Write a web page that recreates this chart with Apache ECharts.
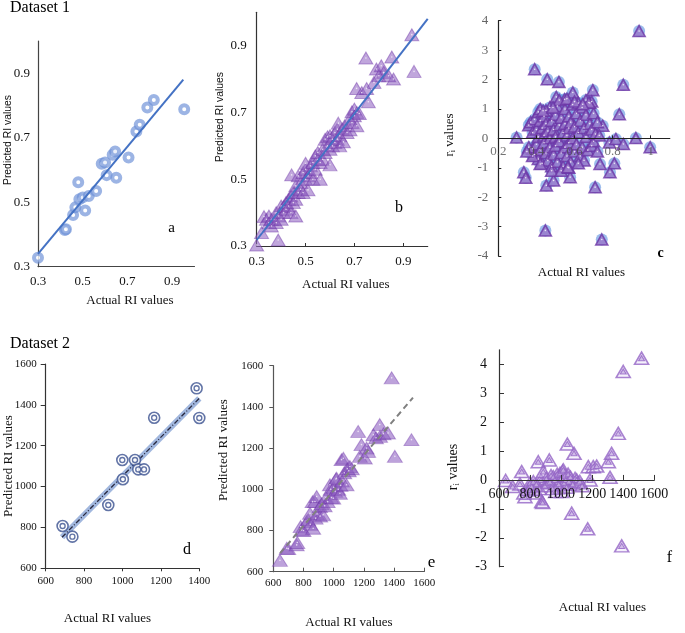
<!DOCTYPE html>
<html><head><meta charset="utf-8">
<script src="https://cdn.jsdelivr.net/npm/echarts@6/dist/echarts.min.js"></script>
<style>html,body{margin:0;padding:0;background:#fff}#c{width:685px;height:633px}</style>
</head><body><div id="c"></div>
<script>
// ---- Dataset 1, panel a ----
const aActual = [0.30,0.42,0.425,0.457,0.467,0.48,0.485,0.50,0.511,0.527,0.56,0.585,0.60,0.607,0.634,0.645,0.65,0.705,0.74,0.755,0.789,0.818,0.954];
const aPred   = [0.328,0.414,0.416,0.46,0.484,0.562,0.509,0.515,0.474,0.519,0.535,0.619,0.623,0.584,0.647,0.657,0.576,0.639,0.719,0.74,0.794,0.817,0.788];
const aFitX = [0.30,0.95];
const aFitY = [0.34,0.88];
// ---- panel b ----
const bActual = [0.30,0.388,0.32,0.33,0.34,0.35,0.35,0.36,0.36,0.37,0.38,0.38,0.39,0.40,0.40,0.41,0.41,0.42,0.42,0.43,0.43,0.44,0.44,0.443,0.45,0.45,0.46,0.46,0.46,0.47,0.47,0.48,0.48,0.49,0.49,0.50,0.50,0.50,0.51,0.51,0.52,0.52,0.53,0.53,0.54,0.54,0.55,0.55,0.56,0.56,0.57,0.57,0.58,0.58,0.59,0.59,0.60,0.60,0.60,0.61,0.61,0.62,0.62,0.63,0.63,0.634,0.64,0.64,0.655,0.65,0.66,0.67,0.68,0.682,0.69,0.69,0.70,0.70,0.71,0.71,0.72,0.709,0.73,0.75,0.757,0.747,0.78,0.79,0.81,0.82,0.80,0.853,0.86,0.84,0.935,0.944];
const bPred   = [0.303,0.318,0.34,0.388,0.38,0.37,0.39,0.36,0.38,0.38,0.37,0.40,0.39,0.42,0.38,0.40,0.418,0.43,0.41,0.44,0.42,0.45,0.40,0.513,0.46,0.43,0.48,0.44,0.39,0.51,0.46,0.49,0.47,0.52,0.46,0.53,0.50,0.548,0.51,0.468,0.54,0.52,0.55,0.50,0.57,0.53,0.56,0.58,0.55,0.50,0.59,0.56,0.62,0.58,0.60,0.627,0.63,0.59,0.543,0.62,0.60,0.64,0.61,0.65,0.62,0.668,0.63,0.60,0.612,0.65,0.66,0.64,0.68,0.648,0.67,0.702,0.71,0.69,0.70,0.66,0.697,0.772,0.76,0.772,0.732,0.863,0.79,0.83,0.84,0.82,0.81,0.866,0.80,0.81,0.933,0.823];
const bFitX = [0.30,1.0];
const bFitY = [0.318,0.98];
// ---- panel c ----
const cActual = [0.296,0.334,0.344,0.391,0.447,0.452,0.457,0.49,0.504,0.518,0.548,0.577,0.591,0.696,0.708,0.734,0.743,0.748,0.783,0.786,0.809,0.817,0.835,0.856,0.856,0.922,0.939,0.997,
 0.36,0.37,0.38,0.38,0.39,0.39,0.40,0.40,0.41,0.41,0.41,0.42,0.42,0.43,0.43,0.44,0.44,0.44,0.45,0.45,0.46,0.46,0.47,0.47,0.47,0.48,0.48,0.49,0.49,0.50,0.50,0.50,0.51,0.51,0.52,0.52,0.53,0.53,0.54,0.54,0.55,0.55,0.55,0.56,0.56,0.57,0.57,0.57,0.58,0.58,0.59,0.59,0.60,0.60,0.61,0.61,0.62,0.62,0.63,0.63,0.64,0.64,0.65,0.65,0.66,0.66,0.67,0.68,0.68,0.69,0.69,0.70,0.70,0.71,0.72,0.72,0.73,0.52,0.56,0.60,0.66,0.69,0.45,0.42,0.48,0.53,0.57,0.62,0.38,0.36,0.35,0.435,0.487,0.675,0.643,0.42,0.565];
const cResid  = [0.03,-1.15,-1.34,2.35,-3.13,-1.6,2.01,-1.43,1.41,1.92,1.33,-1.32,1.56,1.64,-1.66,-0.87,-3.44,0.43,-0.14,-1.15,-0.85,-0.02,0.82,1.82,-0.19,0.01,3.65,-0.3,
 0.45,0.55,0.2,-0.35,0.65,-0.55,0.3,-0.2,0.9,0.05,-0.7,0.6,-0.4,0.35,-0.85,0.1,-0.15,0.75,-0.5,0.5,0.25,-0.75,1.05,0.0,-0.3,0.6,-0.95,0.3,-0.55,0.8,0.05,-0.25,1.1,-0.8,0.45,-0.1,0.7,-0.5,0.2,-0.95,1.0,0.5,-0.3,0.1,-0.6,0.75,0.35,-0.15,-0.8,0.55,1.15,0.0,0.4,-0.45,0.85,-0.2,1.2,0.2,-0.6,0.6,-0.3,1.05,0.35,-0.75,0.8,0.05,-0.4,0.5,1.2,-0.25,0.3,0.85,-0.1,0.15,-0.45,0.55,0.1,1.3,1.35,1.25,1.3,1.25,0.95,1.0,-1.1,-1.1,-1.0,-0.85,-0.6,-0.3,-0.45,0.94,1.05,1.22,1.16,-0.87,-0.98];
// ---- Dataset 2, panel d ----
const dActual = [688,739,926,999,1002,1065,1082,1112,1165,1386,1400];
const dPred   = [807,755,910,1130,1036,1130,1084,1084,1337,1481,1336];
const dFitX = [685,1400];
const dFitY = [752,1432];
// ---- panel e ----
const eActual = [644,689,699,755,759,781,788,800,821,831,843,845,860,864,876,880,887,890,909,910,920,930,940,950,960,975,980,985,997,1000,1010,1015,1019,1030,1041,1045,1052,1055,1064,1070,1085,1090,1100,1107,1120,1162,1173,1184,1206,1218,1228,1263,1280,1305,1307,1330,1360,1384,1405,1515];
const ePred   = [655,714,712,730,742,819,803,800,843,852,884,830,940,811,941,860,965,880,916,870,930,876,920,960,940,1022,1000,960,957,1010,990,1050,1054,1000,981,1020,1144,1040,1151,1080,1022,1100,1090,1111,1100,1281,1160,1217,1152,1200,1184,1265,1250,1314,1257,1270,1273,1541,1160,1241];
const eFitX = [645,1525];
const eFitY = [690,1445];
// ---- panel f ----
const fActual = [643,688,735,746,767,760,790,800,810,821,832,840,845,853,860,870,875,881,885,895,905,915,924,928,935,945,950,960,965,975,985,993,1000,1004,1010,1014,1020,1025,1030,1035,1040,1045,1050,1060,1068,1075,1083,1090,1100,1110,1120,1135,1171,1175,1186,1207,1229,1304,1315,1325,1368,1390,1400,1518];
const fResid  = [-0.02,-0.23,-0.14,0.29,-0.58,-0.45,-0.3,-0.1,-0.23,-0.06,-0.35,-0.15,-0.45,0.63,-0.3,0.0,-0.75,-0.78,0.29,-0.2,0.05,-0.1,0.69,-0.06,0.15,-0.3,0.11,0.0,-0.4,0.2,-0.15,0.23,0.05,-0.4,0.3,0.35,-0.1,0.15,0.0,-0.25,1.24,0.2,-0.05,0.1,-1.15,-0.15,0.92,0.05,0.0,-0.1,-0.05,-0.2,-1.69,0.46,0.0,0.46,0.48,0.63,0.09,0.92,1.61,-2.28,3.75,4.21];
// tick labels
const ticksD1 = [0.3,0.5,0.7,0.9];
const ticksCx = [0.2,0.4,0.6,0.8,1];
const ticksCy = [-4,-3,-2,-1,0,1,2,3,4];
const ticksDx = [600,800,1000,1200,1400];
const ticksD2 = [600,800,1000,1200,1400,1600];
const ticksFy = [-3,-2,-1,0,1,2,3,4];

const zip = (xs, ys) => xs.map((x, i) => [x, ys[i]]);
const serif = '"Liberation Serif","DejaVu Serif",serif';
const sans = '"Liberation Sans","DejaVu Sans",sans-serif';

const grids = [
  {left: 38, top: 41, width: 156.5, height: 225.7},
  {left: 256.7, top: 12.3, width: 171, height: 233.7},
  {left: 498.3, top: 20.7, width: 171.5, height: 235.3},
  {left: 45.7, top: 364, width: 153.6, height: 204.3},
  {left: 273.3, top: 365.7, width: 151, height: 206},
  {left: 499, top: 349.8, width: 155.3, height: 216.9}
];

function axis(gi, min, max, vals, o) {
  return {
    type: 'value', gridIndex: gi, min: min, max: max,
    offset: o.offset || 0,
    splitLine: {show: false},
    axisLine: {show: true, onZero: false, lineStyle: {color: o.lc || '#333', width: o.lw || 1.2}},
    axisTick: {show: !!o.tick, inside: !!o.inside, length: o.tl || 4, customValues: vals, lineStyle: {color: o.lc || '#333'}},
    axisLabel: {customValues: vals, fontFamily: serif, fontSize: o.fs || 13, color: o.color || '#111', margin: o.m || 8,
      formatter: v => String(v)}
  };
}
// x axis drawn through y = 0 for the residual panels (shift up from the bottom edge)
const zeroShift = (gi, ymin, ymax) => -grids[gi].height * (0 - ymin) / (ymax - ymin);

const chart = echarts.init(document.getElementById('c'), null, {renderer: 'canvas'});
const option = {
  animation: false,
  grid: grids,
  xAxis: [
    axis(0, 0.3, 1.0, ticksD1, {lc: '#444', m: 8}),
    axis(1, 0.3, 1.0, ticksD1, {lc: '#333', tick: true, inside: true, tl: 3, m: 9}),
    axis(2, 0.2, 1.1, ticksCx, {lc: '#222', tick: true, inside: true, tl: 3, color: 'rgba(80,80,80,0.8)', m: 7, offset: zeroShift(2, -4, 4)}),
    axis(3, 600, 1400, ticksDx, {lc: '#333', tick: true, tl: 3, fs: 11, m: 7}),
    axis(4, 600, 1600, ticksD2, {lc: '#555', tick: true, inside: true, tl: 4, fs: 11, m: 6}),
    axis(5, 600, 1600, ticksD2, {lc: '#333', tick: true, inside: true, tl: 5, fs: 14, m: 7, offset: zeroShift(5, -3, 4.5)})
  ],
  yAxis: [
    axis(0, 0.3, 1.0, ticksD1, {lc: '#444', m: 8}),
    axis(1, 0.3, 1.0, ticksD1, {lc: '#333', m: 10}),
    axis(2, -4, 4, ticksCy, {lc: '#222', tick: true, inside: true, tl: 3, color: '#666', m: 10}),
    axis(3, 600, 1600, ticksD2, {lc: '#333', tick: true, tl: 5, fs: 11, m: 9}),
    axis(4, 600, 1600, ticksD2, {lc: '#555', tick: true, tl: 4, fs: 11, m: 10}),
    axis(5, -3, 4.5, ticksFy, {lc: '#333', tick: true, inside: true, tl: 5, fs: 14, m: 12})
  ],
  series: [
    // a
    {type: 'scatter', xAxisIndex: 0, yAxisIndex: 0, data: zip(aActual, aPred), symbol: 'circle', symbolSize: 8,
      itemStyle: {color: '#fff', borderColor: 'rgba(110,145,215,0.85)', borderWidth: 4}},
    {type: 'line', xAxisIndex: 0, yAxisIndex: 0, data: zip(aFitX, aFitY), symbol: 'none', lineStyle: {color: '#4472C4', width: 2}, z: 5},
    // b
    {type: 'scatter', xAxisIndex: 1, yAxisIndex: 1, data: zip(bActual, bPred), symbol: 'triangle', symbolSize: [14, 12],
      itemStyle: {color: 'rgba(145,100,195,0.72)', borderColor: 'rgba(105,45,165,0.55)', borderWidth: 1}},
    {type: 'scatter', xAxisIndex: 1, yAxisIndex: 1, data: zip(bActual, bPred), symbol: 'circle', symbolSize: 1.6,
      itemStyle: {color: 'rgba(255,255,255,0.9)'}},
    {type: 'line', xAxisIndex: 1, yAxisIndex: 1, data: zip(bFitX, bFitY), symbol: 'none', lineStyle: {color: '#4472C4', width: 2}, z: 5},
    // c (kept beneath the axis so its tick labels stay readable)
    {type: 'scatter', xAxisIndex: 2, yAxisIndex: 2, data: zip(cActual, cResid), symbol: 'circle', symbolSize: 12, z: -3,
      itemStyle: {color: 'rgba(100,150,225,0.8)'}},
    {type: 'scatter', xAxisIndex: 2, yAxisIndex: 2, data: zip(cActual, cResid), symbol: 'triangle', symbolSize: [12, 11], z: -2,
      itemStyle: {color: '#9A78C9', borderColor: '#6B36A6', borderWidth: 1.6}},
    {type: 'scatter', xAxisIndex: 2, yAxisIndex: 2, data: zip(cActual, cResid), symbol: 'circle', symbolSize: 1.6, z: -1,
      itemStyle: {color: '#fff'}},
    // d
    {type: 'line', xAxisIndex: 3, yAxisIndex: 3, data: zip(dFitX, dFitY), symbol: 'none', lineStyle: {color: 'rgba(110,145,205,0.65)', width: 6}},
    {type: 'line', xAxisIndex: 3, yAxisIndex: 3, data: zip(dFitX, dFitY), symbol: 'none', lineStyle: {color: '#2A2A40', width: 1.3, type: [5, 2, 1, 2]}},
    {type: 'scatter', xAxisIndex: 3, yAxisIndex: 3, data: zip(dActual, dPred), symbol: 'circle', symbolSize: 11,
      itemStyle: {color: '#fff', borderColor: '#3B5190', borderWidth: 1.6}, z: 6},
    {type: 'scatter', xAxisIndex: 3, yAxisIndex: 3, data: zip(dActual, dPred), symbol: 'circle', symbolSize: 5,
      itemStyle: {color: '#fff', borderColor: '#3B5190', borderWidth: 1.4}, z: 7},
    // e
    {type: 'scatter', xAxisIndex: 4, yAxisIndex: 4, data: zip(eActual, ePred), symbol: 'triangle', symbolSize: [15, 12],
      itemStyle: {color: 'rgba(145,100,195,0.75)', borderColor: 'rgba(105,45,165,0.5)', borderWidth: 1}},
    {type: 'scatter', xAxisIndex: 4, yAxisIndex: 4, data: zip(eActual, ePred), symbol: 'circle', symbolSize: 1.6,
      itemStyle: {color: 'rgba(255,255,255,0.9)'}},
    {type: 'line', xAxisIndex: 4, yAxisIndex: 4, data: zip(eFitX, eFitY), symbol: 'none', lineStyle: {color: '#808080', width: 2, type: [6, 4]}, z: 5},
    // f
    {type: 'scatter', xAxisIndex: 5, yAxisIndex: 5, data: zip(fActual, fResid), symbol: 'triangle', symbolSize: [14, 12], z: -2,
      itemStyle: {color: 'rgba(220,205,240,0.35)', borderColor: '#9364C6', borderWidth: 1.6}},
    {type: 'scatter', xAxisIndex: 5, yAxisIndex: 5, data: zip(fActual, fResid), symbol: 'triangle', symbolSize: [6, 5], z: -1,
      itemStyle: {color: '#C9B3E3', borderColor: '#9364C6', borderWidth: 1.1}}
  ],
  graphic: [
    {type: 'text', x: 10, y: 8, style: {text: 'Dataset 1', font: '16px ' + serif, fill: '#000', textVerticalAlign: 'middle'}},
    {type: 'text', x: 10, y: 344, style: {text: 'Dataset 2', font: '16px ' + serif, fill: '#000', textVerticalAlign: 'middle'}},
    // panel letters
    {type: 'text', x: 171.5, y: 228, style: {text: 'a', font: '15px ' + serif, fill: '#000', textAlign: 'center', textVerticalAlign: 'middle'}},
    {type: 'text', x: 399, y: 207.5, style: {text: 'b', font: '16px ' + serif, fill: '#000', textAlign: 'center', textVerticalAlign: 'middle'}},
    {type: 'text', x: 660.5, y: 253.5, style: {text: 'c', font: 'bold 14px ' + serif, fill: '#000', textAlign: 'center', textVerticalAlign: 'middle'}},
    {type: 'text', x: 187, y: 550, style: {text: 'd', font: '16px ' + serif, fill: '#000', textAlign: 'center', textVerticalAlign: 'middle'}},
    {type: 'text', x: 431.5, y: 563, style: {text: 'e', font: '17px ' + serif, fill: '#000', textAlign: 'center', textVerticalAlign: 'middle'}},
    {type: 'text', x: 669.5, y: 557.5, style: {text: 'f', font: '16px ' + serif, fill: '#000', textAlign: 'center', textVerticalAlign: 'middle'}},
    // x axis names
    {type: 'text', x: 130, y: 301, style: {text: 'Actual RI values', font: '13px ' + serif, fill: '#111', textAlign: 'center', textVerticalAlign: 'middle'}},
    {type: 'text', x: 345.8, y: 285, style: {text: 'Actual RI values', font: '13px ' + serif, fill: '#111', textAlign: 'center', textVerticalAlign: 'middle'}},
    {type: 'text', x: 581.5, y: 273, style: {text: 'Actual RI values', font: '13px ' + serif, fill: '#111', textAlign: 'center', textVerticalAlign: 'middle'}},
    {type: 'text', x: 107.5, y: 619, style: {text: 'Actual RI values', font: '13px ' + serif, fill: '#111', textAlign: 'center', textVerticalAlign: 'middle'}},
    {type: 'text', x: 349, y: 623, style: {text: 'Actual RI values', font: '13px ' + serif, fill: '#111', textAlign: 'center', textVerticalAlign: 'middle'}},
    {type: 'text', x: 602.5, y: 607.5, style: {text: 'Actual RI values', font: '13px ' + serif, fill: '#111', textAlign: 'center', textVerticalAlign: 'middle'}},
    // y axis names
    {type: 'text', x: 8.5, y: 140, rotation: Math.PI / 2, style: {text: 'Predicted RI values', font: '10.4px ' + sans, fill: '#111', textAlign: 'center', textVerticalAlign: 'middle'}},
    {type: 'text', x: 220, y: 117, rotation: Math.PI / 2, style: {text: 'Predicted RI values', font: '10.4px ' + sans, fill: '#111', textAlign: 'center', textVerticalAlign: 'middle'}},
    {type: 'text', x: 449.5, y: 135, rotation: Math.PI / 2, style: {text: '{r|r}{s|i}{r| values}', textAlign: 'center', textVerticalAlign: 'middle',
      rich: {r: {fontFamily: serif, fontSize: 13, fill: '#111'}, s: {fontFamily: serif, fontSize: 8, fill: '#111', padding: [7, 0, 0, 0]}}}},
    {type: 'text', x: 8.7, y: 466, rotation: Math.PI / 2, style: {text: 'Predicted RI values', font: '13px ' + serif, fill: '#111', textAlign: 'center', textVerticalAlign: 'middle'}},
    {type: 'text', x: 224, y: 450, rotation: Math.PI / 2, style: {text: 'Predicted RI values', font: '13px ' + serif, fill: '#111', textAlign: 'center', textVerticalAlign: 'middle'}},
    {type: 'text', x: 453, y: 467, rotation: Math.PI / 2, style: {text: '{r|r}{s|i}{r| values}', textAlign: 'center', textVerticalAlign: 'middle',
      rich: {r: {fontFamily: serif, fontSize: 14, fill: '#111'}, s: {fontFamily: serif, fontSize: 9, fill: '#111', padding: [7, 0, 0, 0]}}}}
  ]
};
chart.setOption(option);
</script></body></html>
